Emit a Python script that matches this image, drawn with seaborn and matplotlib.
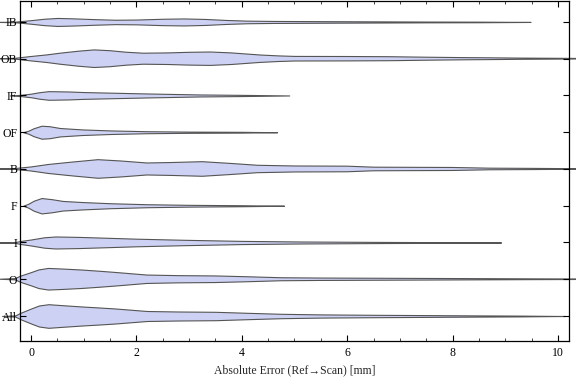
import numpy as np
import pandas as pd
import matplotlib
matplotlib.use("Agg")
import matplotlib.pyplot as plt
import seaborn as sns
from matplotlib.ticker import MultipleLocator

# ---- data: density profile of each violin (x in mm, half-width in px-scaled density) ----
categories = ["IB", "OB", "IF", "OF", "B", "F", "I", "O", "All"]

ib_x = [-0.6, -0.3, -0.2, 0.0, 0.25, 0.5, 0.8, 1.2, 1.6, 2.0, 2.5, 2.9, 3.3, 3.7, 4.1, 4.6, 5.5, 6.5, 7.5, 8.5, 9.48]
ib_w = [0.0, 0.3, 0.8, 1.8, 3.2, 4.0, 3.6, 2.8, 2.2, 2.4, 3.2, 3.5, 3.0, 2.0, 1.3, 1.0, 0.8, 0.6, 0.4, 0.3, 0.0]

ob_x = [-0.6, -0.3, -0.2, 0.0, 0.3, 0.55, 0.9, 1.2, 1.5, 1.8, 2.13, 2.6, 3.0, 3.4, 3.8, 4.35, 4.7, 5.0, 6.0, 6.8, 7.5, 8.2, 8.7, 9.3, 10.0, 10.6, 11.0]
ob_w = [0.0, 0.4, 1.0, 2.2, 3.8, 5.5, 7.5, 8.8, 8.0, 6.5, 5.5, 5.8, 6.4, 6.7, 5.8, 3.7, 2.8, 2.3, 2.2, 2.0, 1.5, 1.1, 0.9, 0.6, 0.4, 0.2, 0.0]

if_x = [-0.4, -0.2, 0.0, 0.15, 0.33, 0.7, 1.0, 1.6, 2.2, 3.2, 4.0, 4.9]
if_w = [0.0, 0.6, 1.8, 3.2, 4.3, 4.0, 3.4, 2.7, 2.0, 1.0, 0.6, 0.0]

of_x = [-0.15, -0.05, 0.05, 0.2, 0.35, 0.55, 0.97, 1.5, 2.2, 3.0, 4.0, 4.67]
of_w = [0.0, 1.5, 4.0, 6.5, 6.0, 4.2, 2.8, 1.8, 1.0, 0.6, 0.4, 0.0]

b_x = [-0.6, -0.3, -0.2, 0.0, 0.33, 0.8, 1.27, 1.7, 2.2, 2.7, 3.25, 3.8, 4.3, 5.0, 6.0, 6.5, 8.0, 8.7, 9.5, 10.3, 11.0]
b_w = [0.0, 0.4, 1.0, 2.0, 4.5, 7.0, 9.3, 8.0, 6.0, 6.5, 7.3, 5.5, 3.7, 3.0, 2.8, 1.8, 1.5, 0.8, 0.6, 0.3, 0.0]

f_x = [-0.15, -0.05, 0.05, 0.2, 0.4, 0.6, 0.97, 1.5, 2.2, 3.0, 4.0, 4.8]
f_w = [0.0, 2.0, 5.0, 7.7, 6.5, 4.8, 3.7, 2.5, 1.5, 0.9, 0.5, 0.0]

i_x = [-0.6, -0.3, -0.2, 0.0, 0.25, 0.46, 0.9, 1.27, 2.0, 2.9, 4.0, 5.1, 6.5, 7.5, 8.92]
i_w = [0.0, 0.4, 1.5, 3.0, 5.2, 6.0, 5.6, 5.0, 3.8, 2.7, 1.6, 1.0, 0.6, 0.4, 0.0]

o_x = [-0.6, -0.3, -0.2, 0.0, 0.15, 0.33, 0.6, 0.97, 1.3, 1.6, 2.2, 2.8, 3.5, 4.1, 4.75, 5.5, 7.0, 8.5, 9.5, 10.2, 10.8]
o_w = [0.0, 0.6, 3.0, 6.5, 9.3, 10.8, 10.2, 9.2, 8.0, 6.8, 4.2, 3.6, 3.3, 2.5, 1.5, 1.2, 0.9, 0.6, 0.4, 0.3, 0.0]

all_x = [-0.55, -0.3, -0.2, 0.0, 0.15, 0.33, 0.6, 0.97, 1.3, 1.6, 2.2, 2.8, 3.5, 4.1, 4.75, 5.5, 6.5, 7.5, 8.5, 9.3, 10.13]
all_w = [0.0, 0.6, 3.2, 7.5, 10.5, 11.8, 10.8, 9.5, 8.5, 7.5, 5.0, 4.5, 4.2, 3.2, 2.2, 1.6, 1.2, 0.9, 0.6, 0.4, 0.0]

profiles_x = [ib_x, ob_x, if_x, of_x, b_x, f_x, i_x, o_x, all_x]
profiles_w = [ib_w, ob_w, if_w, of_w, b_w, f_w, i_w, o_w, all_w]

x_ticks = [0, 2, 4, 6, 8, 10]
x_label = "Absolute Error (Ref\u2192Scan) [mm]"

# ---- style ----
sns.set_theme(style="ticks")
plt.rcParams["font.family"] = ["Liberation Serif", "DejaVu Serif"]
plt.rcParams["font.size"] = 8.5

W_SCALE = 1 / 36.75  # px-density -> category units
FILL = "#CDD1F3"
EDGE = "#555555"

fig = plt.figure(figsize=(5.76, 3.81), dpi=100)
ax = fig.add_axes([20 / 576, 1 - 341 / 381, 549 / 576, 340 / 381])
ax.set_axisbelow(False)

for pos, (xs, ws) in enumerate(zip(profiles_x, profiles_w)):
    xs = np.asarray(xs, float)
    ws = np.asarray(ws, float) * W_SCALE
    ax.fill_between(xs, pos - ws, pos + ws, facecolor=FILL, edgecolor=EDGE,
                    linewidth=0.8, clip_on=False, zorder=2)

ax.set_xlim(-0.21, 10.21)
ax.set_ylim(8.68, -0.57)
ax.set_yticks(range(len(categories)))
ax.set_yticklabels(categories)
ax.set_xticks(x_ticks)
ax.set_xticklabels([str(t) for t in x_ticks])
ax.xaxis.set_minor_locator(MultipleLocator(0.5))

ax.tick_params(axis="both", which="major", direction="in", length=4, width=0.8,
               color="black", labelsize=8.5, labelcolor="black")
ax.tick_params(axis="x", which="minor", direction="in", length=2.2, width=0.6)
ax.tick_params(axis="x", which="both", top=True, pad=4)
ax.tick_params(axis="y", which="major", right=True, pad=2)
ax.tick_params(axis="y", which="minor", left=False, right=False)

for sp in ax.spines.values():
    sp.set_visible(True)
    sp.set_color("black")
    sp.set_linewidth(0.9)
    sp.set_zorder(3)

ax.set_xlabel(x_label, fontsize=8.5, labelpad=4)
ax.set_ylabel("")
ax.grid(False)

fig.savefig("out.png", dpi=100, facecolor="white")
